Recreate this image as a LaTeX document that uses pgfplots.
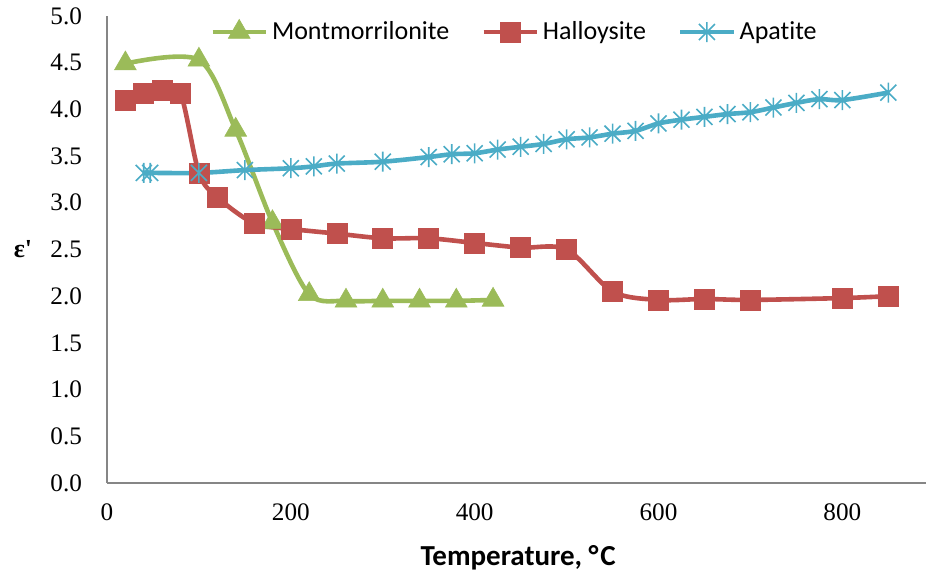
\documentclass[border=0pt]{standalone}
\usepackage{fontspec}
\setmainfont{Liberation Serif}
\newfontfamily\calibri[Ligatures={NoCommon}]{Carlito}
\usepackage{pgfplots}
\pgfplotsset{compat=1.18}

\definecolor{mgreen}{RGB}{155,187,89}
\definecolor{hred}{RGB}{192,80,77}
\definecolor{acyan}{RGB}{75,172,198}
\definecolor{axgray}{RGB}{134,134,134}

% Excel-like star marker: vertical bar plus an X
\pgfdeclareplotmark{xstar}{%
  \pgfpathmoveto{\pgfqpoint{0pt}{\pgfplotmarksize}}%
  \pgfpathlineto{\pgfqpoint{0pt}{-\pgfplotmarksize}}%
  \pgfpathmoveto{\pgfqpoint{-0.8\pgfplotmarksize}{0.8\pgfplotmarksize}}%
  \pgfpathlineto{\pgfqpoint{0.8\pgfplotmarksize}{-0.8\pgfplotmarksize}}%
  \pgfpathmoveto{\pgfqpoint{-0.8\pgfplotmarksize}{-0.8\pgfplotmarksize}}%
  \pgfpathlineto{\pgfqpoint{0.8\pgfplotmarksize}{0.8\pgfplotmarksize}}%
  \pgfusepathqstroke}

\begin{document}
\begin{tikzpicture}
\begin{axis}[
    scale only axis,
    width=409.5pt, height=233.5pt,
    xmin=0, xmax=891, ymin=0, ymax=5,
    axis x line=bottom, axis y line=left,
    axis line style={-, axgray, line width=0.9pt},
    xtick={0,200,...,800},
    ytick={0,0.5,...,5},
    major tick length=0pt,
    /pgf/number format/assume math mode=true,
    yticklabel style={/pgf/number format/.cd, fixed, fixed zerofill, precision=1, /tikz/.cd, font=\fontsize{12.6}{14}\selectfont, xshift=-9pt},
    xticklabel style={font=\fontsize{12.6}{14}\selectfont, yshift=-7pt},
    xlabel={\calibri\bfseries Temperature, °\kern0.8pt C},
    xlabel style={font=\fontsize{14.5}{16}\selectfont, at={(axis description cs:0.502,0)}, anchor=center, yshift=-37.5pt},
    ylabel={\bfseries ε\textquotesingle},
    ylabel style={font=\fontsize{13}{14}\selectfont, rotate=-90, at={(axis description cs:0,0.5)}, anchor=center, xshift=-42pt},
    legend columns=3,
    legend style={draw=none, fill=none, inner sep=0pt, font=\calibri\fontsize{13}{15}\selectfont,
        at={(axis description cs:0.1258,0.9657)}, anchor=west,
        /tikz/every even column/.append style={column sep=14pt}},
    legend image code/.code={\draw[mark repeat=2,mark phase=2,#1] plot coordinates {(0pt,0pt) (13.25pt,0pt) (26.5pt,0pt)};},
    clip=false,
]
\addplot[mgreen, line width=2.3pt, smooth, tension=0.5, mark=triangle*, mark size=6.3pt, mark options={solid, line width=0.3pt}]
coordinates {(20,4.49) (100,4.53) (140,3.78) (180,2.79) (220,2.02) (260,1.95) (300,1.95) (340,1.95) (380,1.95) (420,1.96)};
\addlegendentry{Montmorrilonite}
\addplot[hred, line width=2.3pt, smooth, tension=0.5, mark=square*, mark size=5pt, mark options={solid, line width=0.3pt}]
coordinates {(20,4.10) (40,4.17) (60,4.20) (80,4.17) (100,3.32) (120,3.06) (160,2.78) (200,2.72) (250,2.67) (300,2.62) (350,2.62) (400,2.57) (450,2.52) (500,2.50) (550,2.05) (600,1.96) (650,1.97) (700,1.96) (800,1.98) (850,2.00)};
\addlegendentry{Halloysite}
\addplot[acyan, line width=2.3pt, smooth, tension=0.5, mark=xstar, mark size=5pt, mark options={solid, line width=0.8pt}]
coordinates {(40,3.32) (47,3.32) (100,3.32) (150,3.35) (200,3.37) (225,3.39) (250,3.42) (300,3.44) (350,3.49) (375,3.52) (400,3.53) (425,3.57) (450,3.60) (475,3.63) (500,3.68) (525,3.70) (550,3.74) (575,3.77) (600,3.85) (625,3.89) (650,3.92) (675,3.95) (700,3.97) (725,4.02) (750,4.07) (775,4.11) (800,4.10) (850,4.18)};
\addlegendentry{Apatite}
\end{axis}
\pgfresetboundingbox
\path[use as bounding box] (-53.5pt,-47pt) rectangle (409.5pt,241.5pt);
\end{tikzpicture}
\end{document}
